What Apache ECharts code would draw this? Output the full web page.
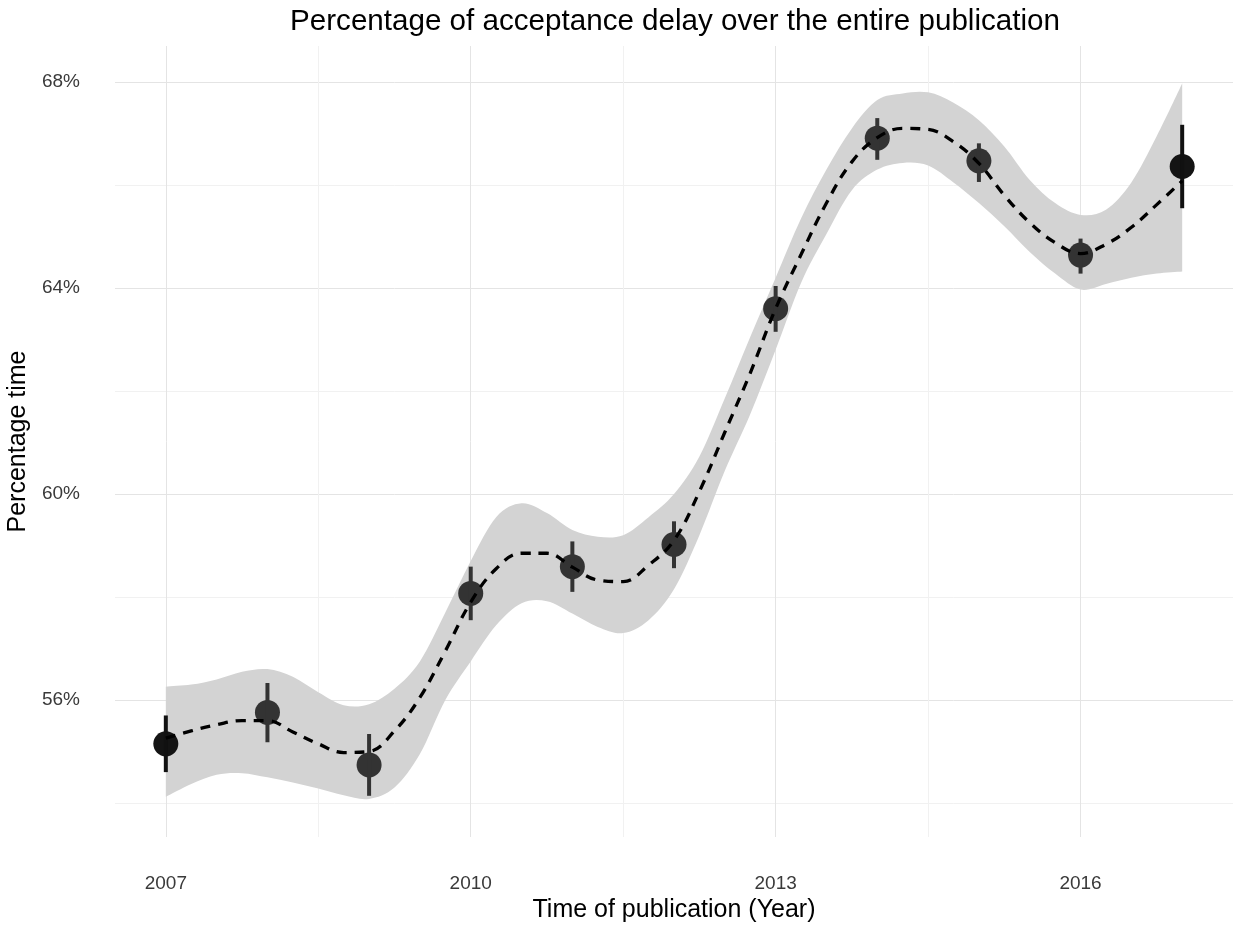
<!DOCTYPE html>
<html>
<head>
<meta charset="utf-8">
<script src="https://cdn.jsdelivr.net/npm/echarts@6/dist/echarts.min.js"></script>
<style>
html,body{margin:0;padding:0;background:#ffffff;}
#chart{width:1233px;height:926px;}
</style>
</head>
<body>
<div id="chart"></div>
<script>
// ---- Data ----
const years = [2007, 2008, 2009, 2010, 2011, 2012, 2013, 2014, 2015, 2016, 2017];
const pointValues = [55.15, 55.76, 54.74, 58.07, 58.59, 59.02, 63.60, 66.91, 66.47, 64.64, 66.36];
const errLow  = [54.60, 55.18, 54.14, 57.55, 58.10, 58.56, 63.15, 66.49, 66.06, 64.28, 65.55];
const errHigh = [55.70, 56.33, 55.34, 58.59, 59.08, 59.47, 64.04, 67.30, 66.81, 64.96, 67.17];

const curveX = [2007, 2007.25, 2007.5, 2007.75, 2008, 2008.25, 2008.5, 2008.75, 2009, 2009.25,
  2009.5, 2009.75, 2010, 2010.25, 2010.5, 2010.75, 2011, 2011.25, 2011.5, 2011.75,
  2012, 2012.25, 2012.5, 2012.75, 2013, 2013.25, 2013.5, 2013.75, 2014, 2014.25,
  2014.5, 2014.75, 2015, 2015.25, 2015.5, 2015.75, 2016, 2016.25, 2016.5, 2016.75, 2017];
const curveY = [55.26, 55.40, 55.52, 55.60, 55.60, 55.38, 55.15, 54.98, 55.00, 55.40,
  56.05, 56.95, 57.90, 58.55, 58.85, 58.85, 58.58, 58.33, 58.30, 58.62,
  59.10, 60.05, 61.20, 62.35, 63.60, 64.65, 65.65, 66.45, 66.92, 67.10,
  67.08, 66.84, 66.42, 65.80, 65.27, 64.88, 64.67, 64.85, 65.18, 65.62, 66.08];
const bandHigh = [56.26, 56.30, 56.40, 56.55, 56.60, 56.45, 56.15, 55.90, 55.92, 56.22,
  56.75, 57.70, 58.70, 59.55, 59.82, 59.63, 59.30, 59.17, 59.20, 59.55,
  60.00, 60.73, 61.86, 63.05, 64.20, 65.35, 66.30, 67.10, 67.65, 67.78,
  67.80, 67.60, 67.26, 66.75, 66.10, 65.65, 65.42, 65.52, 66.05, 66.95, 67.97];
const bandLow = [54.12, 54.37, 54.55, 54.58, 54.50, 54.40, 54.28, 54.15, 54.08, 54.30,
  54.95, 56.00, 56.75, 57.45, 57.88, 57.92, 57.68, 57.42, 57.30, 57.55,
  58.15, 59.20, 60.45, 61.55, 62.80, 64.10, 65.05, 65.90, 66.30, 66.43,
  66.38, 66.05, 65.65, 65.20, 64.70, 64.28, 63.97, 64.08, 64.20, 64.28, 64.32];

const xLabelValues = [2007, 2010, 2013, 2016];
const xGridValues = [2007, 2008.5, 2010, 2011.5, 2013, 2014.5, 2016];
const yLabelValues = [56, 60, 64, 68];
const yGridValues = [54, 56, 58, 60, 62, 64, 66, 68];

const titleText = 'Percentage of acceptance delay over the entire publication';
const xTitle = 'Time of publication (Year)';
const yTitle = 'Percentage time';

// ---- Chart ----
const FONT = '"Liberation Sans", Arial, Helvetica, sans-serif';
const chart = echarts.init(document.getElementById('chart'), null, {renderer: 'canvas'});

function smoothSegs(pts) {
  let d = '';
  for (let i = 0; i < pts.length - 1; i++) {
    const p0 = pts[Math.max(i - 1, 0)], p1 = pts[i], p2 = pts[i + 1], p3 = pts[Math.min(i + 2, pts.length - 1)];
    const c1x = p1[0] + (p2[0] - p0[0]) / 6, c1y = p1[1] + (p2[1] - p0[1]) / 6;
    const c2x = p2[0] - (p3[0] - p1[0]) / 6, c2y = p2[1] - (p3[1] - p1[1]) / 6;
    d += ' C' + c1x + ',' + c1y + ' ' + c2x + ',' + c2y + ' ' + p2[0] + ',' + p2[1];
  }
  return d;
}

const isEnd = i => i === 0 || i === years.length - 1;

const option = {
  animation: false,
  backgroundColor: '#ffffff',
  title: {
    text: titleText,
    left: 670,
    top: 2,
    textAlign: 'center',
    textStyle: {fontFamily: FONT, fontSize: 29.6, fontWeight: 'normal', color: '#000000'}
  },
  grid: {left: 115, right: 0, top: 46, bottom: 89, containLabel: false, outerBoundsMode: 'none'},
  xAxis: {
    type: 'value',
    min: 2006.5,
    max: 2017.5,
    name: xTitle,
    nameLocation: 'middle',
    nameGap: 53,
    nameTextStyle: {fontFamily: FONT, fontSize: 25, color: '#000000'},
    axisLine: {show: false},
    axisTick: {show: false, customValues: xGridValues},
    axisLabel: {
      customValues: xLabelValues,
      margin: 37,
      fontFamily: FONT, fontSize: 19, color: '#3a3a3a',
      formatter: v => String(v)
    },
    splitLine: {show: true, lineStyle: {color: ['#e4e4e4', '#f1f1f1'], width: 1}}
  },
  yAxis: {
    type: 'value',
    min: 53.34,
    max: 68.70,
    name: yTitle,
    nameLocation: 'middle',
    nameGap: 77,
    nameRotate: 90,
    nameTextStyle: {fontFamily: FONT, fontSize: 25, color: '#000000'},
    axisLine: {show: false},
    axisTick: {show: false, customValues: yGridValues},
    axisLabel: {
      customValues: yLabelValues,
      margin: 35,
      fontFamily: FONT, fontSize: 19, color: '#3a3a3a',
      formatter: v => Math.round(v) + '%'
    },
    splitLine: {show: true, lineStyle: {color: ['#f1f1f1', '#e4e4e4'], width: 1}}
  },
  series: [
    {
      name: 'band',
      type: 'custom',
      z: 1,
      silent: true,
      data: curveX.map((x, i) => [x, bandLow[i], bandHigh[i]]),
      encode: {x: 0, y: [1, 2]},
      renderItem: function (params, api) {
        if (params.dataIndexInside !== 0) return null;
        const n = params.dataInsideLength;
        const up = [], lo = [];
        for (let j = 0; j < n; j++) {
          up.push(api.coord([api.value(0, j), api.value(2, j)]));
          lo.push(api.coord([api.value(0, j), api.value(1, j)]));
        }
        const loRev = lo.slice().reverse();
        const d = 'M' + up[0][0] + ',' + up[0][1] + smoothSegs(up) +
          ' L' + loRev[0][0] + ',' + loRev[0][1] + smoothSegs(loRev) + ' Z';
        return {type: 'path', shape: {pathData: d}, style: {fill: '#d3d3d3', stroke: null}};
      }
    },
    {
      name: 'points',
      type: 'scatter',
      z: 2,
      symbol: 'circle',
      symbolSize: 25,
      data: years.map((y, i) => [y, pointValues[i]]),
      itemStyle: {color: p => isEnd(p.dataIndex) ? '#141414' : '#333333', opacity: 1}
    },
    {
      name: 'errorbars',
      type: 'custom',
      z: 3,
      data: years.map((y, i) => [y, errLow[i], errHigh[i]]),
      encode: {x: 0, y: [1, 2]},
      renderItem: function (params, api) {
        const x = api.value(0);
        const p1 = api.coord([x, api.value(1)]);
        const p2 = api.coord([x, api.value(2)]);
        return {
          type: 'line',
          shape: {x1: p1[0], y1: p1[1], x2: p2[0], y2: p2[1]},
          style: {stroke: isEnd(params.dataIndex) ? '#111111' : '#333333', lineWidth: 4}
        };
      }
    },
    {
      name: 'smooth',
      type: 'line',
      z: 4,
      smooth: 0.4,
      symbol: 'none',
      data: curveX.map((x, i) => [x, curveY[i]]),
      lineStyle: {color: '#000000', width: 3.3, type: [10, 8], cap: 'butt'}
    }
  ]
};
chart.setOption(option);
</script>
</body>
</html>
